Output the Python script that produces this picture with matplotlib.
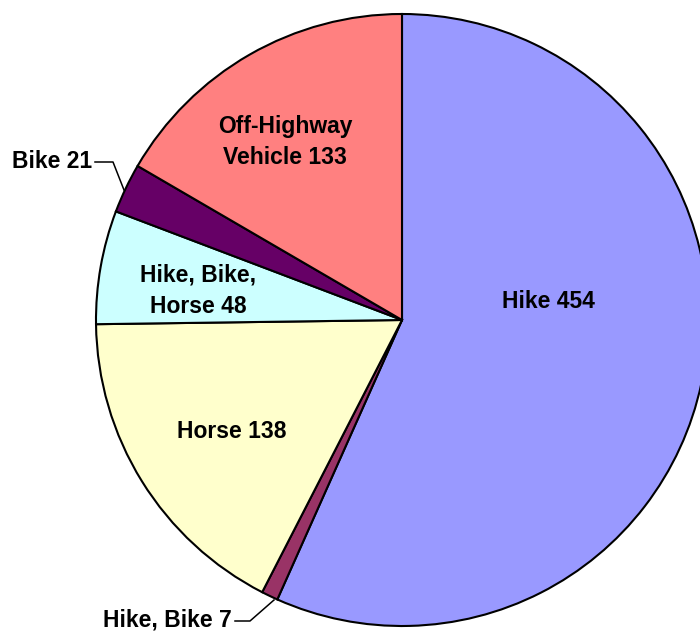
import matplotlib
matplotlib.use("Agg")
import matplotlib.pyplot as plt

labels = ["Hike", "Hike, Bike", "Horse", "Hike, Bike, Horse", "Bike", "Off-Highway Vehicle"]
values = [454, 7, 138, 48, 21, 133]
colors = ["#9999FF", "#993366", "#FFFFCC", "#CCFFFF", "#660066", "#FF8080"]

plt.rcParams["font.family"] = ["Liberation Sans", "DejaVu Sans"]

fig = plt.figure(figsize=(7.0, 6.32), dpi=100)
ax = fig.add_axes([0, 0, 1, 1])

cx, cy, r = 402, 312, 306
ax.pie(values, colors=colors, startangle=90, counterclock=False,
       center=(cx, cy), radius=r, frame=True,
       wedgeprops=dict(edgecolor="black", linewidth=1.5))
ax.set_xlim(0, 700)
ax.set_ylim(0, 632)
ax.set_aspect("equal")
ax.axis("off")

fs = 16.5
# labels inside slices (pixel coords, y flipped)
ax.text(548, 632 - 302, "Hike 454", ha="center", va="center", fontsize=fs, fontweight="bold")
ax.text(232, 632 - 432, "Horse 138", ha="center", va="center", fontsize=fs, fontweight="bold")
ax.text(198, 632 - 291, "Hike, Bike,\nHorse 48", ha="center", va="center", fontsize=fs,
        fontweight="bold", linespacing=1.45)
ax.text(285, 632 - 142, "Off-Highway\nVehicle 133", ha="center", va="center", fontsize=fs,
        fontweight="bold", linespacing=1.45)

# outside labels with leader lines
ax.text(92, 632 - 161, "Bike 21", ha="right", va="center", fontsize=fs, fontweight="bold")
ax.plot([95, 113, 124], [632 - 162, 632 - 162, 632 - 190], color="black", lw=1.1)
ax.text(232, 632 - 620, "Hike, Bike 7", ha="right", va="center", fontsize=fs, fontweight="bold")
ax.plot([235, 250, 274], [632 - 621, 632 - 621, 632 - 600], color="black", lw=1.1)

fig.savefig("out.png", dpi=100)
